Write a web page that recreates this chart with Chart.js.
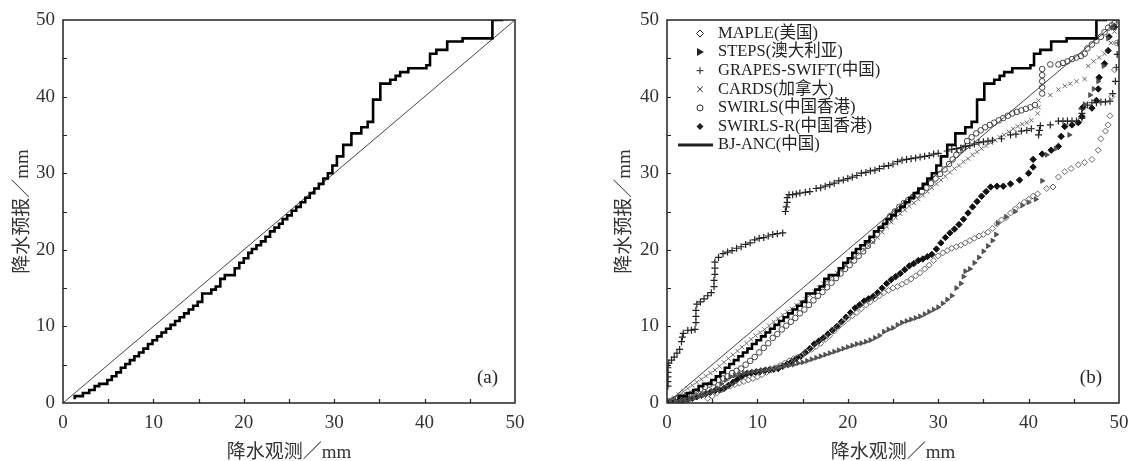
<!DOCTYPE html>
<html>
<head>
<meta charset="utf-8">
<script src="https://cdn.jsdelivr.net/npm/chart.js"></script>
<style>
  body { margin: 0; background: #fff; width: 1129px; height: 461px; overflow: hidden; position: relative; }
  canvas { position: absolute; top: 0; }
  #chartA { left: 0; }
  #chartB { left: 600px; }
</style>
</head>
<body>
<canvas id="chartA" width="560" height="461"></canvas>
<canvas id="chartB" width="529" height="461"></canvas>
<script>
// axis ticks (mm)
const tickValues = [0, 10, 20, 30, 40, 50];
const minorTicks = [5, 10, 15, 20, 25, 30, 35, 40, 45];

// BJ-ANC (China) quantiles, drawn as a step line
const bjObs = [1.3,2.2,2.9,3.5,4.0,4.9,5.4,5.9,6.4,6.9,7.4,7.9,8.4,8.9,9.4,9.9,10.4,10.9,11.4,11.9,12.4,12.9,13.4,13.9,14.4,14.9,15.4,16.4,16.9,17.4,17.9,19.0,19.5,20.0,20.5,20.9,21.4,21.9,22.4,22.9,23.4,23.9,24.3,24.8,25.3,25.8,26.3,26.8,27.3,27.8,28.3,28.8,29.3,29.8,30.3,31.0,31.9,33.0,33.7,34.3,35.1,36.2,36.8,37.3,38.2,40.2,40.6,41.3,42.5,44.2,47.5,48.7];
const bjFcst = [0.5,0.9,1.3,1.7,2.2,2.5,3.0,3.5,4.0,4.6,5.1,5.6,6.1,6.6,7.1,7.7,8.2,8.7,9.2,9.7,10.2,10.7,11.2,11.7,12.2,12.7,13.2,14.3,14.8,15.2,16.2,16.7,17.6,18.3,18.9,19.6,20.1,20.6,21.1,21.7,22.4,22.9,23.4,24.0,24.5,25.1,25.6,26.2,26.8,27.4,28.0,28.6,29.3,30.0,31.0,32.2,33.7,35.2,36.0,36.7,39.6,41.7,42.2,42.7,43.2,43.7,44.1,45.6,46.1,47.2,47.6,50.0];

// MAPLE (USA)
const mapleObs = [0.2,0.6,1.0,1.5,2.0,2.5,3.0,3.5,4.0,4.5,5.0,5.5,6.0,6.5,7.0,7.5,8.0,8.5,9.0,9.5,10.0,10.5,11.0,11.5,12.0,12.5,13.0,13.5,14.0,14.5,15.0,15.5,16.0,16.5,17.0,17.5,18.0,18.5,19.0,19.5,20.0,20.5,21.0,21.5,22.0,22.5,23.0,23.5,24.0,24.5,25.0,25.5,26.0,26.5,27.0,27.5,28.0,28.5,29.0,29.5,30.0,30.5,31.0,31.5,32.0,32.5,33.0,33.5,34.0,34.5,35.0,35.5,36.0,36.5,37.0,37.5,38.0,38.5,39.0,39.5,40.0,40.5,41.0,42.0,42.7,43.3,44.0,44.7,45.5,46.2,47.0,47.7,48.0,48.5,48.8,49.0,49.2,49.5,49.7];
const mapleFcst = [0.1,0.3,0.5,0.7,0.9,1.0,1.2,1.3,1.1,0.6,0.9,1.3,1.7,2.0,2.2,2.4,2.6,2.8,3.0,3.2,3.4,3.7,4.0,4.3,4.6,4.9,5.2,5.5,5.8,6.0,6.3,6.7,7.0,7.4,7.8,8.3,8.8,9.4,10.0,10.5,11.0,11.4,11.8,12.3,12.8,13.2,13.6,14.0,14.4,14.7,15.0,15.2,15.5,15.8,16.2,16.6,17.0,17.5,18.0,18.6,19.2,19.6,19.9,20.2,20.4,20.6,20.9,21.2,21.5,21.8,22.0,22.3,22.8,23.4,23.9,24.2,24.8,25.3,25.8,26.2,26.6,27.0,27.3,28.0,28.2,29.5,30.2,30.6,31.1,31.4,31.8,33.0,34.5,35.5,36.3,37.5,40.0,43.5,47.0];

// STEPS (Australia)
const stepsObs = [0.5,1.0,1.5,2.0,2.5,3.0,3.5,4.0,4.5,5.0,5.5,6.0,6.5,7.0,7.5,8.0,8.5,9.0,9.5,10.0,10.5,11.0,11.5,12.0,12.5,13.0,13.5,14.0,14.5,15.0,15.5,16.0,16.5,17.0,17.5,18.0,18.5,19.0,19.5,20.0,20.5,21.0,21.5,22.0,22.5,23.0,23.5,24.0,24.5,25.0,25.5,26.0,26.5,27.0,27.5,28.0,28.5,29.0,29.5,30.0,30.5,31.0,31.5,32.0,32.5,32.8,33.0,33.5,34.0,34.5,35.0,35.5,36.0,36.4,36.6,37.5,38.5,39.3,40.0,40.8,41.5,42.0,43.0,44.5,46.2,46.8,47.2,47.7,48.3,48.8,49.3];
const stepsFcst = [0.0,0.1,0.2,0.3,0.4,0.6,0.8,1.0,1.3,1.6,2.0,2.5,3.0,3.4,3.6,3.8,3.9,4.0,4.1,4.2,4.3,4.4,4.5,4.6,4.7,4.8,4.9,5.0,5.2,5.3,5.5,5.7,5.9,6.1,6.3,6.5,6.7,6.9,7.1,7.3,7.5,7.7,7.8,8.0,8.2,8.5,8.8,9.3,9.6,9.8,10.2,10.5,10.7,10.9,11.1,11.3,11.6,11.9,12.2,12.5,13.0,13.5,14.0,15.0,15.6,16.5,17.2,17.5,18.3,19.0,19.8,20.5,21.2,22.0,23.5,24.3,25.0,25.8,26.2,26.6,29.0,32.4,33.2,35.0,39.0,40.2,41.0,42.0,44.0,47.6,49.0];

// GRAPES-SWIFT (China)
const grapesObs = [0.1,0.1,0.1,0.1,0.1,0.2,0.5,0.8,1.1,1.4,1.6,1.7,1.8,2.3,2.7,3.1,3.2,3.2,3.2,3.3,3.7,4.1,4.5,4.9,5.2,5.2,5.3,5.3,5.3,5.7,6.2,6.7,7.2,7.7,8.2,8.7,9.2,9.7,10.2,10.7,11.2,11.7,12.2,12.8,13.1,13.2,13.3,13.3,13.5,13.9,14.3,14.7,15.3,15.8,16.5,17.0,17.5,18.0,18.5,19.0,19.5,20.0,20.5,21.0,21.5,22.0,22.5,23.0,23.5,24.0,24.5,25.0,25.5,26.0,26.5,27.0,27.5,28.0,28.5,29.0,29.5,30.0,31.0,31.5,32.0,32.5,33.0,33.5,34.0,34.5,35.0,35.5,36.0,37.0,38.0,38.6,39.2,39.8,40.3,41.1,41.2,41.3,42.4,43.3,43.8,44.3,44.8,45.3,45.9,45.9,45.9,46.5,47.0,47.5,48.0,48.5,49.0,49.3,49.6,49.7,49.8,49.9];
const grapesFcst = [2.2,2.8,3.4,4.0,4.6,5.2,5.6,6.0,6.5,7.0,8.0,8.6,9.1,9.5,9.5,9.6,10.5,11.3,12.1,12.9,13.2,13.6,14.0,14.4,15.2,16.0,16.8,17.6,18.4,19.0,19.5,19.7,19.9,20.2,20.4,20.7,20.9,21.3,21.5,21.6,21.8,22.0,22.1,22.2,25.0,25.6,26.2,26.8,27.2,27.2,27.3,27.4,27.5,27.6,28.0,28.1,28.3,28.5,28.7,29.0,29.1,29.3,29.5,29.7,30.0,30.1,30.3,30.4,30.6,30.9,31.0,31.2,31.5,31.7,31.8,31.9,32.0,32.1,32.2,32.3,32.5,32.6,32.9,33.1,33.2,33.3,33.5,33.6,33.8,34.0,34.1,34.2,34.3,34.5,35.0,35.1,35.5,35.6,35.8,35.0,35.6,36.2,36.3,36.8,36.8,36.8,36.8,36.8,37.2,37.8,38.4,38.9,39.2,39.2,39.3,39.3,39.4,40.4,42.0,43.8,45.5,47.0];

// CARDS (Canada)
const cardsObs = [0.3,0.8,1.3,1.8,2.3,2.8,3.3,3.8,4.3,4.8,5.3,5.8,6.3,6.8,7.3,7.8,8.3,8.8,9.3,9.8,10.3,10.8,11.3,11.8,12.3,12.8,13.3,13.8,14.3,14.8,15.3,15.8,16.3,16.8,17.3,17.8,18.3,18.8,19.3,19.8,20.3,20.8,21.3,21.8,22.3,22.8,23.3,23.8,24.3,24.8,25.3,25.8,26.3,26.8,27.3,27.8,28.3,28.8,29.3,29.8,30.3,30.8,31.3,31.8,32.3,32.8,33.3,33.8,34.3,34.8,35.3,35.8,36.3,36.8,37.3,37.8,38.3,38.8,39.3,39.8,40.3,41.0,41.1,41.1,42.4,43.3,44.0,44.6,45.3,46.2,46.6,47.2,47.8,48.4,49.1,49.5];
const cardsFcst = [0.3,0.7,1.1,1.5,1.9,2.3,2.7,3.1,3.5,3.9,4.3,4.8,5.3,5.8,6.3,6.8,7.3,7.8,8.3,8.8,9.2,9.6,10.1,10.6,11.0,11.5,11.9,12.3,12.8,13.2,13.6,14.1,14.6,15.1,15.6,16.0,16.5,17.0,17.5,18.0,18.5,19.0,19.5,20.0,20.5,21.0,21.6,22.3,23.0,23.6,24.2,24.7,25.2,25.7,26.1,26.6,27.1,27.6,28.1,28.6,29.1,29.6,30.1,30.6,31.0,31.5,31.9,32.4,32.8,33.2,33.6,34.0,34.3,34.7,35.0,35.4,35.8,36.1,36.4,36.6,36.9,37.8,38.6,39.5,40.2,40.9,41.4,41.7,42.0,42.3,44.0,44.6,45.1,45.6,47.0,48.5];

// SWIRLS (Hong Kong, China)
const swirlsObs = [0.2,0.7,1.2,1.7,2.2,2.7,3.2,3.7,4.2,4.7,5.2,5.7,6.2,6.7,7.2,7.7,8.2,8.7,9.2,9.7,10.2,10.7,11.2,11.7,12.2,12.7,13.2,13.7,14.2,14.7,15.2,15.7,16.2,16.7,17.2,17.7,18.2,18.7,19.2,19.7,20.2,20.7,21.2,21.7,22.2,22.7,23.2,23.7,24.2,24.7,25.2,25.7,26.2,26.7,27.2,27.7,28.2,28.7,29.2,29.7,30.2,30.7,31.2,31.6,32.0,32.4,32.8,33.2,33.7,34.2,34.7,35.2,35.7,36.2,36.7,37.2,37.7,38.2,38.7,39.2,39.7,40.2,40.7,41.5,41.5,41.5,41.5,41.5,42.4,43.3,43.8,44.3,44.8,45.3,45.8,46.2,46.5,47.0,47.5,48.0,48.4,48.8,49.2,49.5];
const swirlsFcst = [0.2,0.4,0.6,0.8,1.0,1.2,1.5,1.8,2.1,2.4,2.7,3.0,3.2,3.5,3.9,4.2,4.5,5.0,5.5,6.0,6.6,7.2,7.8,8.5,9.0,9.6,10.1,10.6,11.1,11.7,12.2,12.8,13.4,14.0,14.5,15.1,15.7,16.3,16.9,17.5,18.0,18.6,19.2,19.8,20.5,21.2,22.0,22.8,23.6,24.4,25.0,25.6,26.1,26.5,26.9,27.2,27.6,28.1,28.7,29.3,29.9,30.5,31.2,31.8,32.4,33.0,33.3,34.2,34.7,35.2,35.6,36.0,36.3,36.6,36.9,37.2,37.5,37.8,38.0,38.2,38.4,38.6,38.9,40.4,41.2,42.0,42.8,43.6,44.2,44.2,44.4,44.6,44.9,45.1,45.3,45.6,46.3,46.8,47.3,47.8,48.4,49.0,49.3,49.6];

// SWIRLS-R (Hong Kong, China)
const swirlsRObs = [0.3,0.8,1.3,1.8,2.3,2.8,3.3,3.8,4.3,4.8,5.3,5.8,6.3,6.8,7.3,7.8,8.3,8.8,9.3,9.8,10.3,10.8,11.3,11.8,12.3,12.8,13.3,13.8,14.3,14.8,15.3,15.8,16.3,16.8,17.3,17.8,18.3,18.8,19.3,19.8,20.3,20.8,21.3,21.8,22.3,22.8,23.3,23.8,24.3,24.8,25.3,25.8,26.3,26.8,27.3,27.8,28.3,28.8,29.3,29.8,30.3,30.8,31.3,31.8,32.3,32.8,33.3,33.8,34.3,34.8,35.3,35.8,36.5,37.2,38.0,39.0,40.0,40.5,40.5,41.5,42.5,43.3,43.6,44.0,44.8,45.5,45.9,46.0,47.0,47.5,47.7,47.8,48.4,48.8,48.9,49.5];
const swirlsRFcst = [0.1,0.2,0.3,0.4,0.5,0.6,0.8,1.0,1.2,1.4,1.6,1.7,1.9,2.3,2.7,3.1,3.5,3.8,3.9,4.0,4.1,4.2,4.3,4.4,4.5,4.8,5.1,5.4,5.8,6.1,6.6,7.1,7.7,8.1,8.5,9.0,9.5,10.0,10.6,11.2,11.8,12.4,12.8,13.3,13.6,13.9,14.4,15.0,15.6,16.1,16.5,16.9,17.4,17.9,18.2,18.6,18.8,19.1,19.4,20.1,20.9,21.6,22.2,22.7,23.3,24.0,24.8,25.6,26.3,27.0,27.6,28.2,28.3,28.3,28.6,29.1,30.0,30.8,31.8,32.5,33.0,33.5,34.8,36.1,36.3,36.6,37.4,38.6,38.5,39.5,41.0,42.5,44.3,46.0,47.8,49.1];

const serif = '"Liberation Serif", "Noto Sans CJK SC", serif';

function pts(xs, ys) {
  return xs.map((v, i) => ({ x: v, y: ys[i] }));
}

const diagonal = {
  type: 'line', data: [{ x: 0, y: 0 }, { x: 50, y: 50 }],
  borderColor: '#444', borderWidth: 1, pointRadius: 0, order: 1
};
const bjLine = {
  type: 'line', data: pts(bjObs, bjFcst), stepped: 'after',
  borderColor: '#000', borderWidth: 2.6, pointRadius: 0, order: 0
};

function scatter(xs, ys, style) {
  return Object.assign({ type: 'scatter', data: pts(xs, ys), order: 2, borderWidth: 1 }, style);
}

// box, inner tick marks and panel tag
const framePlugin = {
  id: 'frame',
  afterDatasetsDraw(chart, args, opts) {
    const { ctx, chartArea: a, scales: { x, y } } = chart;
    ctx.save();
    ctx.strokeStyle = '#222';
    ctx.lineWidth = 1.5;
    ctx.strokeRect(a.left, a.top, a.right - a.left, a.bottom - a.top);
    ctx.lineWidth = 1.2;
    ctx.beginPath();
    minorTicks.forEach(v => {
      const px = Math.round(x.getPixelForValue(v)) + 0.5;
      const py = Math.round(y.getPixelForValue(v)) + 0.5;
      ctx.moveTo(px, a.bottom); ctx.lineTo(px, a.bottom - 4);
      ctx.moveTo(a.left, py); ctx.lineTo(a.left + 4, py);
    });
    ctx.stroke();
    ctx.font = '19px ' + serif;
    ctx.fillStyle = '#222';
    ctx.textAlign = 'right';
    ctx.textBaseline = 'middle';
    ctx.fillText(opts.tag, a.right - 17, a.bottom - 25);
    ctx.restore();
  }
};

// legend drawn inside the plot area of panel (b)
const legendItems = [
  { text: 'MAPLE(美国)', mark: 'diamond' },
  { text: 'STEPS(澳大利亚)', mark: 'triangle' },
  { text: 'GRAPES-SWIFT(中国)', mark: 'plus' },
  { text: 'CARDS(加拿大)', mark: 'cross' },
  { text: 'SWIRLS(中国香港)', mark: 'circle' },
  { text: 'SWIRLS-R(中国香港)', mark: 'fdiamond' },
  { text: 'BJ-ANC(中国)', mark: 'line' }
];
const legendPlugin = {
  id: 'innerLegend',
  afterDraw(chart) {
    const ctx = chart.ctx;
    const mx = 100, tx = 118;
    ctx.save();
    legendItems.forEach((it, i) => {
      const cy = 33.5 + i * 18.6;
      ctx.strokeStyle = '#222'; ctx.fillStyle = '#222'; ctx.lineWidth = 1;
      ctx.beginPath();
      if (it.mark === 'diamond' || it.mark === 'fdiamond') {
        ctx.moveTo(mx, cy - 3.5); ctx.lineTo(mx + 3.5, cy); ctx.lineTo(mx, cy + 3.5); ctx.lineTo(mx - 3.5, cy); ctx.closePath();
        it.mark === 'fdiamond' ? ctx.fill() : ctx.stroke();
      } else if (it.mark === 'triangle') {
        ctx.moveTo(mx - 3, cy - 4); ctx.lineTo(mx + 4, cy); ctx.lineTo(mx - 3, cy + 4); ctx.closePath(); ctx.fill();
      } else if (it.mark === 'plus') {
        ctx.moveTo(mx - 3.5, cy); ctx.lineTo(mx + 3.5, cy); ctx.moveTo(mx, cy - 3.5); ctx.lineTo(mx, cy + 3.5); ctx.stroke();
      } else if (it.mark === 'cross') {
        ctx.moveTo(mx - 2.8, cy - 2.8); ctx.lineTo(mx + 2.8, cy + 2.8); ctx.moveTo(mx + 2.8, cy - 2.8); ctx.lineTo(mx - 2.8, cy + 2.8); ctx.stroke();
      } else if (it.mark === 'circle') {
        ctx.arc(mx, cy, 3, 0, Math.PI * 2); ctx.stroke();
      } else {
        ctx.lineWidth = 3; ctx.moveTo(78, cy); ctx.lineTo(113, cy); ctx.stroke();
      }
      ctx.font = '16.5px ' + serif;
      ctx.textAlign = 'left';
      ctx.textBaseline = 'middle';
      ctx.fillText(it.text, tx, cy);
    });
    ctx.restore();
  }
};

function makeChart(id, datasets, cfg) {
  const tickFont = { family: serif, size: 19 };
  const titleFont = { family: serif, size: 19 };
  return new Chart(document.getElementById(id), {
    type: 'scatter',
    data: { datasets: datasets },
    options: {
      responsive: false,
      animation: false,
      devicePixelRatio: 1,
      layout: { padding: { top: 20, right: cfg.padRight, left: 0, bottom: 0 } },
      plugins: {
        legend: { display: false },
        tooltip: { enabled: false },
        frame: { tag: cfg.tag }
      },
      scales: {
        x: {
          type: 'linear', min: 0, max: 50,
          grid: { display: false, drawTicks: false },
          border: { display: false },
          ticks: { stepSize: 10, padding: 9, font: tickFont, color: '#333',
                   callback: v => tickValues.includes(v) ? String(v) : '' },
          title: { display: true, text: '降水观测／mm', font: titleFont, color: '#333', padding: { top: 0, bottom: -3 } },
          afterFit: s => { s.height = 58; s.paddingLeft = 0; s.paddingRight = 0; }
        },
        y: {
          type: 'linear', min: 0, max: 50,
          grid: { display: false, drawTicks: false },
          border: { display: false },
          ticks: { stepSize: 10, padding: 8, font: tickFont, color: '#333',
                   callback: v => tickValues.includes(v) ? String(v) : '' },
          title: { display: true, text: '降水预报／mm', font: titleFont, color: '#333', padding: { top: cfg.titlePad, bottom: 0 } },
          afterFit: s => { s.width = cfg.yWidth; s.paddingTop = 0; s.paddingBottom = 0; }
        }
      }
    },
    plugins: cfg.plugins
  });
}

makeChart('chartA', [bjLine, diagonal], { tag: '(a)', padRight: 45, yWidth: 63, titlePad: 12, plugins: [framePlugin] });

makeChart('chartB', [
  Object.assign({}, bjLine, { data: pts(bjObs, bjFcst) }),
  Object.assign({}, diagonal),
  scatter(mapleObs, mapleFcst, { pointStyle: 'rectRot', pointRadius: 3, borderColor: '#666', backgroundColor: 'rgba(255,255,255,0)' }),
  scatter(stepsObs, stepsFcst, { pointStyle: 'triangle', rotation: 90, pointRadius: 2.8, borderColor: '#444', backgroundColor: '#555', borderWidth: 0.8 }),
  scatter(grapesObs, grapesFcst, { pointStyle: 'cross', pointRadius: 3.5, borderColor: '#222', borderWidth: 1.2 }),
  scatter(cardsObs, cardsFcst, { pointStyle: 'crossRot', pointRadius: 3, borderColor: '#666' }),
  scatter(swirlsObs, swirlsFcst, { pointStyle: 'circle', pointRadius: 2.8, borderColor: '#444', backgroundColor: 'rgba(255,255,255,0)' }),
  scatter(swirlsRObs, swirlsRFcst, { pointStyle: 'rectRot', pointRadius: 3.2, borderColor: '#111', backgroundColor: '#111' })
], { tag: '(b)', padRight: 10, yWidth: 67, titlePad: 14, plugins: [framePlugin, legendPlugin] });
</script>
</body>
</html>
